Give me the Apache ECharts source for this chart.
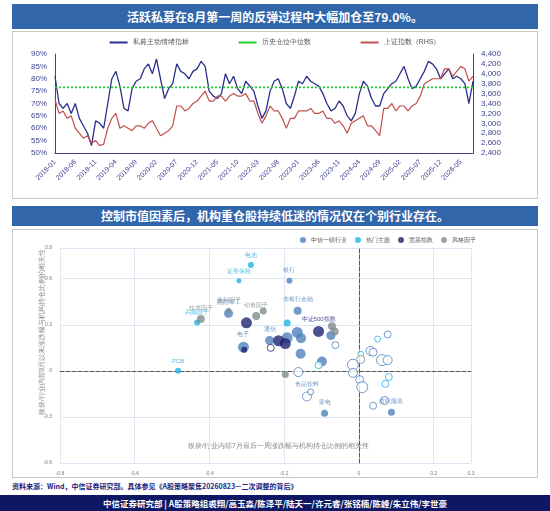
<!DOCTYPE html>
<html><head><meta charset="utf-8">
<script src="https://cdn.jsdelivr.net/npm/echarts@6/dist/echarts.min.js"></script>
<style>
body{margin:0;width:550px;height:511px;background:#fff;font-family:"Noto Sans CJK SC",sans-serif;position:relative;overflow:hidden}
.ban{position:absolute;left:12px;width:526px;color:#fff;font-weight:bold;text-align:center;background:#3166ab}
.panel{position:absolute;left:12px;width:524px;border:1px solid #c8c8c8}
</style></head><body>
<div class="ban" style="top:4px;height:25px;line-height:25px;font-size:12px">活跃私募在8月第一周的反弹过程中大幅加仓至79.0%。</div>
<div class="panel" id="c1" style="top:31px;height:166px"></div>
<div class="ban" style="top:206px;height:20px;line-height:20px;font-size:12px">控制市值因素后，机构重仓股持续低迷的情况仅在个别行业存在。</div>
<div class="panel" id="c2" style="top:229px;height:247px"></div>
<div style="position:absolute;left:12px;top:481px;font-size:7px;color:#1a237e;font-weight:bold">资料来源：Wind，中信证券研究部。具体参见《A股策略聚焦20260823—二次调整的背后》</div>
<div style="position:absolute;left:0;top:495px;width:550px;height:16px;line-height:16px;background:#0d1763;color:#fff;font-size:8.5px;font-weight:bold;text-align:center">中信证券研究部 | A股策略组裘翔/高玉淼/陈泽平/陆天一/许元睿/张铭楠/陈峰/朱立伟/李世豪</div>
<script>
const months = ['2018-01','2018-02','2018-03','2018-04','2018-05','2018-06','2018-07','2018-08','2018-09','2018-10','2018-11','2018-12',
'2019-01','2019-02','2019-03','2019-04','2019-05','2019-06','2019-07','2019-08','2019-09','2019-10','2019-11','2019-12',
'2020-01','2020-02','2020-03','2020-04','2020-05','2020-06','2020-07','2020-08','2020-09','2020-10','2020-11','2020-12',
'2021-01','2021-02','2021-03','2021-04','2021-05','2021-06','2021-07','2021-08','2021-09','2021-10','2021-11','2021-12',
'2022-01','2022-02','2022-03','2022-04','2022-05','2022-06','2022-07','2022-08','2022-09','2022-10','2022-11','2022-12',
'2023-01','2023-02','2023-03','2023-04','2023-05','2023-06','2023-07','2023-08','2023-09','2023-10','2023-11','2023-12',
'2024-01','2024-02','2024-03','2024-04','2024-05','2024-06','2024-07','2024-08','2024-09','2024-10','2024-11','2024-12',
'2025-01','2025-02','2025-03','2025-04','2025-05','2025-06','2025-07','2025-08','2025-09','2025-10','2025-11','2025-12',
'2026-01','2026-02','2026-03','2026-04','2026-05','2026-06','2026-07','2026-08'];
const sentiment = [81,70,68,70,66,70,64,61,58,53,63,62, 60,70,80,83,77,68,67,76,79,80,84,86, 82,88,80,72,76,78,86,83,82,80,83,84,
87,85,75,73,72,74,82,78,81,76,74,79, 77,75,69,64,67,75,79,80,76,70,68,73, 79,78,81,79,78,77,74,70,67,68,71,69,
65,63,66,74,79,77,72,69,69,74,76,78, 79,82,85,80,76,77,80,83,87,86,84,80, 82,84,80,81,80,78,70,79];
const shIndex = [3480,3200,3250,3100,3150,2900,2800,2700,2750,2600,2650,2550, 2580,2900,3100,3200,2900,2950,2900,2850,2950,2950,2900,3000,
3050,2900,2750,2800,2850,2950,3350,3350,3250,3300,3400,3450, 3550,3650,3450,3450,3550,3550,3450,3550,3600,3550,3550,3600,
3450,3450,3200,3000,3150,3350,3250,3250,3100,2900,3100,3100, 3250,3250,3250,3300,3200,3200,3250,3100,3100,3000,3050,2950,
2800,3000,3050,3100,3150,2950,2950,2850,2750,3300,3300,3400, 3250,3350,3350,3250,3350,3400,3550,3800,3850,3900,3900,3900,
4100,4100,3950,4050,4150,4100,3850,3950];
const median = 76.5;

const c1 = echarts.init(document.getElementById('c1'));
const ax = {color:'#3a3f8f',fontSize:8};
c1.setOption({
  animation:false,
  legend:{top:2,itemWidth:18,itemHeight:2,itemGap:50,textStyle:{fontSize:7,color:'#555'},
    data:[{name:'私募主动情绪指标',icon:'rect'},{name:'历史仓位中位数',icon:'rect'},{name:'上证指数（RHS）',icon:'rect'}]},
  grid:{left:42,right:64,top:22,bottom:45},
  xAxis:{type:'category',data:months,boundaryGap:false,
    axisLine:{lineStyle:{color:'#3a3f8f'}},axisTick:{show:false},
    axisLabel:{...ax,fontSize:7,rotate:45,interval:4}},
  yAxis:[{type:'value',min:50,max:90,interval:5,axisLabel:{...ax,formatter:'{value}%'},splitLine:{show:false},
     axisLine:{show:true,lineStyle:{color:'#3a3f8f'}}},
    {type:'value',min:2400,max:4400,interval:200,axisLabel:{...ax,formatter:v=>v.toLocaleString('en-US')},splitLine:{show:false},
     axisLine:{show:true,lineStyle:{color:'#3a3f8f'}}}],
  series:[
    {name:'私募主动情绪指标',type:'line',data:sentiment,symbol:'none',lineStyle:{color:'#2a2f8c',width:1.3},itemStyle:{color:'#2a2f8c'}},
    {name:'历史仓位中位数',type:'line',data:months.map(()=>median),symbol:'none',lineStyle:{color:'#1ed12a',width:1.6,type:[2,2]},itemStyle:{color:'#1ed12a'}},
    {name:'上证指数（RHS）',type:'line',yAxisIndex:1,data:shIndex,symbol:'none',lineStyle:{color:'#c0504d',width:1.2},itemStyle:{color:'#c0504d'}}
  ]
});

// scatter: [x, y, size, label, filled]
const industry = [[-0.186,0.587,6,'银行',1],[-0.164,0.391,8,'非银行金融',1],[-0.349,0.374,9,'国防军工',1],[-0.239,0.198,9,'通信',1],
 [-0.309,0.154,11,'电子',1],[-0.192,0.215,11,'',1],[-0.165,0.25,11,'',1],[-0.155,0.213,10,'',1],[-0.156,0.111,10,'',1],
 [-0.099,0.061,10,'',1],[-0.075,0.23,9,'',1],[-0.092,-0.276,7,'家电',1],[0.087,-0.27,7,'纺织服装',1],
 [-0.139,-0.167,9,'食品饮料',0],[-0.162,-0.008,9,'',0],[-0.063,0.168,7,'',0],[-0.016,0.04,11,'',0],[-0.016,-0.013,9,'',0],
 [0.002,-0.057,8,'',0],[0.009,-0.106,11,'',0],[0.031,0.13,9,'',0],[0.038,0.121,8,'',0],[0.062,0.07,11,'',0],[0.077,0.07,9,'',0],
 [0.077,0.237,7,'',0],[0.069,-0.193,8,'',0],[0.038,-0.227,7,'',0],[-0.129,-0.137,6,'',0]];
const themes = [[-0.289,0.689,6,'电池',1],[-0.321,0.587,5,'证券保险',1],[-0.433,0.315,6,'高频因子',1],[-0.192,0.311,7,'',1],
 [-0.484,0,6,'PCB',1],[-0.108,0.037,7,'',0],[0.05,0.207,6,'',0],[0.005,0.108,6,'',0],[0.08,-0.04,7,'',0],[0.071,-0.085,7,'',0]];
const funds = [[-0.301,0.313,11,'',1],[-0.215,0.196,11,'',1],[-0.197,0.178,11,'',1],[-0.108,0.257,11,'中证500指数',1],[-0.307,0.137,6,'',1],[-0.236,0.15,7,'',0]];
const styles = [[-0.423,0.337,8,'技术因子',1],[-0.349,0.395,5,'盈利因子',1],[-0.275,0.357,8,'动量因子',1],[-0.256,0.389,7,'',1],
 [-0.072,0.291,8,'',1],[-0.065,0.257,8,'',1],[-0.197,-0.024,7,'',1],[0.005,0.074,8,'',0]];

function mk(name,arr,color){
  return {name,type:'scatter',itemStyle:{color},
    data:arr.map(d=>({value:[d[0],d[1]],symbolSize:d[2],
      itemStyle:d[4]?{color}:{color:'#fff',borderColor:color,borderWidth:1},
      label:{show:!!d[3],formatter:d[3],position:'top',distance:4,fontSize:6,color:color}}))};
}
const c2 = echarts.init(document.getElementById('c2'));
c2.setOption({
  animation:false,
  legend:{top:2,right:56,itemWidth:6,itemHeight:6,itemGap:8,textStyle:{fontSize:6,color:'#555'},
    data:[{name:'中信一级行业',icon:'circle'},{name:'热门主题',icon:'circle'},{name:'宽基指数',icon:'circle'},{name:'风格因子',icon:'circle'}]},
  grid:{left:47,right:66,top:18,bottom:14},
  xAxis:{type:'value',min:-0.8,max:0.3,interval:0.2,
    axisLine:{onZero:true,lineStyle:{color:'#555',type:'dashed'}},axisTick:{show:false},
    axisLabel:{fontSize:5,color:'#777',showMaxLabel:true,customValues:[-0.8,-0.6,-0.4,-0.2,0,0.2,0.3]},
    position:'bottom',
    splitLine:{lineStyle:{color:'#dfe6f3'}}},
  yAxis:{type:'value',min:-0.6,max:0.8,
    axisTick:{show:false,customValues:[-0.6,-0.3,0,0.3,0.6,0.8]},
    axisLabel:{fontSize:5,color:'#777',customValues:[-0.6,-0.3,0,0.3,0.6,0.8]},
    axisLine:{onZero:true,lineStyle:{color:'#555',type:'dashed'}},
    splitLine:{lineStyle:{color:'#dfe6f3'}}},
  graphic:[
    {type:'text',left:175,top:213,style:{text:'板块/行业内部7月最后一周涨跌幅与机构持仓比例的相关性',fontSize:7,fill:'#888'}},
    {type:'text',x:26,y:185,rotation:Math.PI/2,style:{text:'板块/行业内部8月以来涨跌幅与机构持仓比例的相关性',fontSize:6.5,fill:'#888'}}
  ],
  series:[mk('中信一级行业',industry,'#4f81bd'),mk('热门主题',themes,'#1fb3e0'),mk('宽基指数',funds,'#1f2370'),mk('风格因子',styles,'#7f8c8d')]
});
</script></body></html>
